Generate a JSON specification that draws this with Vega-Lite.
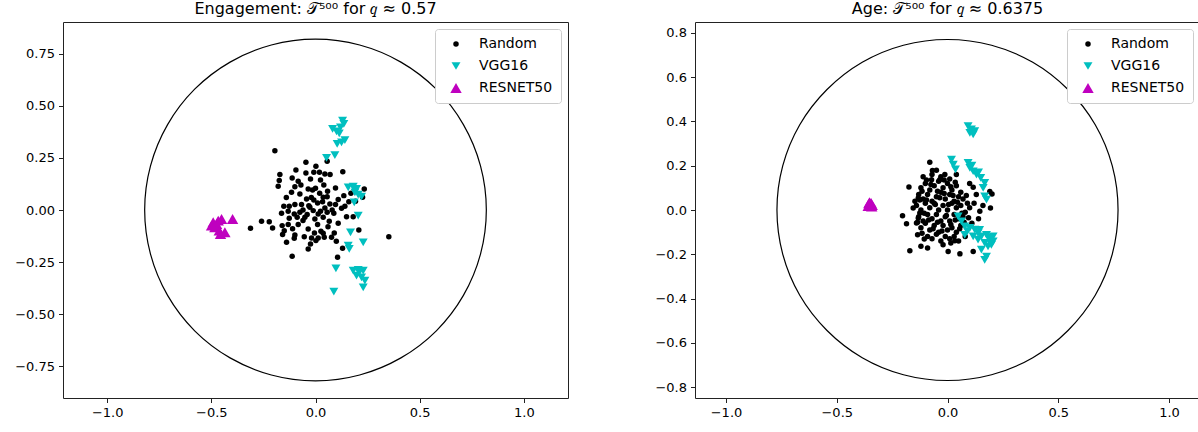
{
  "$schema": "https://vega.github.io/schema/vega-lite/v6.json",
  "padding": {"left": 14, "top": 0, "right": 0, "bottom": 0},
  "spacing": 85,
  "config": {
    "font": "DejaVu Sans",
    "view": {"stroke": "#222222", "strokeWidth": 1},
    "axis": {"domain": false, "grid": false, "ticks": true, "tickSize": 4.5, "tickColor": "#222222", "tickWidth": 1, "labelColor": "black", "labelFont": "DejaVu Sans", "labelFontSize": 13, "labelPadding": 4, "title": null, "labelFlush": false},
    "title": {"fontSize": 16, "fontWeight": "normal", "color": "black", "font": "DejaVu Sans", "offset": 5},
    "legend": {"orient": "top-right", "offset": 7, "padding": 8, "rowPadding": 8, "labelFontSize": 14, "labelFont": "DejaVu Sans", "labelColor": "black", "labelOffset": 16, "cornerRadius": 3, "strokeColor": "#cccccc", "fillColor": "white", "title": null, "symbolOffset": 6}
  },
  "resolve": {"scale": {"color": "independent", "shape": "independent", "size": "independent"}, "legend": {"color": "independent", "shape": "independent", "size": "independent"}},
  "hconcat": [
    {
      "width": 505, "height": 376,
      "title": {"text": "Engagement: 𝒯⁵⁰⁰ for 𝑞 ≈ 0.57"},
      "layer": [
        {
          "data": {"values": [
            {"i":0,"x":0.82,"y":0},{"i":1,"x":0.792,"y":0.212},{"i":2,"x":0.710,"y":0.41},{"i":3,"x":0.580,"y":0.580},{"i":4,"x":0.41,"y":0.710},{"i":5,"x":0.212,"y":0.792},
            {"i":6,"x":0,"y":0.82},{"i":7,"x":-0.212,"y":0.792},{"i":8,"x":-0.41,"y":0.710},{"i":9,"x":-0.580,"y":0.580},{"i":10,"x":-0.710,"y":0.41},{"i":11,"x":-0.792,"y":0.212},
            {"i":12,"x":-0.82,"y":0},{"i":13,"x":-0.792,"y":-0.212},{"i":14,"x":-0.710,"y":-0.41},{"i":15,"x":-0.580,"y":-0.580},{"i":16,"x":-0.41,"y":-0.710},{"i":17,"x":-0.212,"y":-0.792},
            {"i":18,"x":0,"y":-0.82},{"i":19,"x":0.212,"y":-0.792},{"i":20,"x":0.41,"y":-0.710},{"i":21,"x":0.580,"y":-0.580},{"i":22,"x":0.710,"y":-0.41},{"i":23,"x":0.792,"y":-0.212}
          ]},
          "mark": {"type": "line", "color": "black", "strokeWidth": 1.2, "interpolate": "cardinal-closed"},
          "encoding": {
            "x": {"field": "x", "type": "quantitative", "scale": {"domain": [-1.212, 1.212], "nice": false, "zero": false}, "axis": {"values": [-1, -0.5, 0, 0.5, 1], "format": ".1f"}},
            "y": {"field": "y", "type": "quantitative", "scale": {"domain": [-0.9026, 0.9026], "nice": false, "zero": false}, "axis": {"values": [-0.75, -0.5, -0.25, 0, 0.25, 0.5, 0.75], "format": ".2f"}},
            "order": {"field": "i", "type": "quantitative"}
          }
        },
        {
          "data": {"values": [
            {"x":-0.195,"y":0.285,"model":"Random"},{"x":-0.046,"y":0.229,"model":"Random"},{"x":0.002,"y":0.21,"model":"Random"},{"x":0.056,"y":0.234,"model":"Random"},{"x":-0.094,"y":0.192,"model":"Random"},
            {"x":-0.046,"y":0.178,"model":"Random"},{"x":-0.008,"y":0.181,"model":"Random"},{"x":0.019,"y":0.181,"model":"Random"},{"x":0.045,"y":0.173,"model":"Random"},{"x":0.070,"y":0.170,"model":"Random"},
            {"x":0.131,"y":0.184,"model":"Random"},{"x":-0.171,"y":0.170,"model":"Random"},{"x":-0.174,"y":0.142,"model":"Random"},{"x":-0.179,"y":0.114,"model":"Random"},{"x":-0.112,"y":0.154,"model":"Random"},
            {"x":-0.083,"y":0.138,"model":"Random"},{"x":-0.024,"y":0.149,"model":"Random"},{"x":0.024,"y":0.144,"model":"Random"},{"x":-0.099,"y":0.112,"model":"Random"},{"x":-0.035,"y":0.101,"model":"Random"},
            {"x":-0.014,"y":0.096,"model":"Random"},{"x":0.0,"y":0.104,"model":"Random"},{"x":0.096,"y":0.106,"model":"Random"},{"x":0.058,"y":0.090,"model":"Random"},{"x":0.234,"y":0.101,"model":"Random"},
            {"x":-0.115,"y":0.085,"model":"Random"},{"x":-0.075,"y":0.077,"model":"Random"},{"x":-0.043,"y":0.053,"model":"Random"},{"x":-0.008,"y":0.048,"model":"Random"},{"x":0.037,"y":0.061,"model":"Random"},
            {"x":0.056,"y":0.064,"model":"Random"},{"x":0.109,"y":0.050,"model":"Random"},{"x":0.136,"y":0.069,"model":"Random"},{"x":0.226,"y":0.061,"model":"Random"},{"x":-0.152,"y":0.018,"model":"Random"},
            {"x":-0.126,"y":0.018,"model":"Random"},{"x":-0.099,"y":0.026,"model":"Random"},{"x":-0.067,"y":0.026,"model":"Random"},{"x":-0.032,"y":0.021,"model":"Random"},{"x":0.010,"y":0.034,"model":"Random"},
            {"x":0.034,"y":0.040,"model":"Random"},{"x":0.069,"y":0.029,"model":"Random"},{"x":0.096,"y":0.026,"model":"Random"},{"x":0.141,"y":0.018,"model":"Random"},{"x":0.192,"y":0.042,"model":"Random"},
            {"x":-0.163,"y":-0.016,"model":"Random"},{"x":-0.131,"y":-0.006,"model":"Random"},{"x":-0.102,"y":-0.019,"model":"Random"},{"x":-0.075,"y":-0.011,"model":"Random"},{"x":-0.040,"y":-0.022,"model":"Random"},
            {"x":-0.011,"y":-0.003,"model":"Random"},{"x":0.024,"y":-0.006,"model":"Random"},{"x":0.056,"y":-0.011,"model":"Random"},{"x":0.088,"y":-0.016,"model":"Random"},{"x":0.125,"y":0.008,"model":"Random"},
            {"x":0.149,"y":-0.032,"model":"Random"},{"x":0.181,"y":-0.032,"model":"Random"},{"x":-0.126,"y":-0.040,"model":"Random"},{"x":-0.088,"y":-0.035,"model":"Random"},{"x":-0.051,"y":-0.035,"model":"Random"},
            {"x":-0.003,"y":-0.043,"model":"Random"},{"x":0.037,"y":-0.035,"model":"Random"},{"x":0.066,"y":-0.054,"model":"Random"},{"x":0.109,"y":-0.064,"model":"Random"},{"x":-0.259,"y":-0.054,"model":"Random"},
            {"x":-0.222,"y":-0.056,"model":"Random"},{"x":-0.312,"y":-0.088,"model":"Random"},{"x":-0.206,"y":-0.086,"model":"Random"},{"x":-0.160,"y":-0.075,"model":"Random"},{"x":-0.131,"y":-0.070,"model":"Random"},
            {"x":-0.083,"y":-0.070,"model":"Random"},{"x":0.010,"y":-0.070,"model":"Random"},{"x":0.037,"y":-0.112,"model":"Random"},{"x":0.026,"y":-0.102,"model":"Random"},{"x":-0.035,"y":-0.091,"model":"Random"},
            {"x":-0.158,"y":-0.118,"model":"Random"},{"x":-0.099,"y":-0.120,"model":"Random"},{"x":-0.054,"y":-0.128,"model":"Random"},{"x":-0.019,"y":-0.134,"model":"Random"},{"x":0.013,"y":-0.134,"model":"Random"},
            {"x":0.042,"y":-0.131,"model":"Random"},{"x":0.090,"y":-0.110,"model":"Random"},{"x":0.077,"y":-0.131,"model":"Random"},{"x":-0.139,"y":-0.155,"model":"Random"},{"x":-0.102,"y":-0.136,"model":"Random"},
            {"x":-0.024,"y":-0.163,"model":"Random"},{"x":0.002,"y":-0.147,"model":"Random"},{"x":-0.035,"y":-0.187,"model":"Random"},{"x":-0.112,"y":-0.222,"model":"Random"},{"x":0.130,"y":-0.184,"model":"Random"},
            {"x":0.106,"y":-0.227,"model":"Random"},{"x":0.208,"y":-0.096,"model":"Random"},{"x":0.352,"y":-0.128,"model":"Random"},{"x":0.013,"y":-0.019,"model":"Random"},{"x":-0.027,"y":0.013,"model":"Random"},
            {"x":-0.060,"y":0.000,"model":"Random"},{"x":0.045,"y":0.010,"model":"Random"},{"x":0.080,"y":0.000,"model":"Random"},{"x":-0.020,"y":0.060,"model":"Random"},{"x":0.020,"y":0.080,"model":"Random"},
            {"x":-0.060,"y":-0.050,"model":"Random"},{"x":0.060,"y":-0.080,"model":"Random"},{"x":-0.140,"y":0.060,"model":"Random"},{"x":-0.150,"y":-0.100,"model":"Random"},{"x":0.160,"y":0.040,"model":"Random"},
            {"x":-0.005,"y":-0.110,"model":"Random"},{"x":0.100,"y":-0.150,"model":"Random"},{"x":-0.070,"y":0.120,"model":"Random"},{"x":0.040,"y":0.120,"model":"Random"},{"x":0.170,"y":0.080,"model":"Random"},
            {"x":-0.110,"y":-0.090,"model":"Random"},
            {"x":0.130,"y":0.429,"model":"VGG16"},{"x":0.136,"y":0.413,"model":"VGG16"},{"x":0.120,"y":0.397,"model":"VGG16"},{"x":0.082,"y":0.389,"model":"VGG16"},{"x":0.101,"y":0.378,"model":"VGG16"},
            {"x":0.114,"y":0.368,"model":"VGG16"},{"x":0.141,"y":0.336,"model":"VGG16"},{"x":0.125,"y":0.325,"model":"VGG16"},{"x":0.104,"y":0.317,"model":"VGG16"},{"x":0.093,"y":0.264,"model":"VGG16"},
            {"x":0.053,"y":0.250,"model":"VGG16"},{"x":0.157,"y":0.109,"model":"VGG16"},{"x":0.181,"y":0.112,"model":"VGG16"},{"x":0.197,"y":0.101,"model":"VGG16"},{"x":0.189,"y":0.085,"model":"VGG16"},
            {"x":0.205,"y":0.074,"model":"VGG16"},{"x":0.221,"y":0.064,"model":"VGG16"},{"x":0.186,"y":0.037,"model":"VGG16"},{"x":0.205,"y":-0.027,"model":"VGG16"},{"x":0.168,"y":-0.107,"model":"VGG16"},
            {"x":0.229,"y":-0.155,"model":"VGG16"},{"x":0.157,"y":-0.171,"model":"VGG16"},{"x":0.162,"y":-0.187,"model":"VGG16"},{"x":0.098,"y":-0.280,"model":"VGG16"},{"x":0.181,"y":-0.291,"model":"VGG16"},
            {"x":0.205,"y":-0.288,"model":"VGG16"},{"x":0.229,"y":-0.291,"model":"VGG16"},{"x":0.197,"y":-0.315,"model":"VGG16"},{"x":0.221,"y":-0.323,"model":"VGG16"},{"x":0.237,"y":-0.339,"model":"VGG16"},
            {"x":0.229,"y":-0.371,"model":"VGG16"},{"x":0.088,"y":-0.392,"model":"VGG16"},{"x":0.19,"y":0.095,"model":"VGG16"},{"x":0.21,"y":-0.30,"model":"VGG16"},
            {"x":-0.491,"y":-0.059,"model":"RESNET50"},{"x":-0.475,"y":-0.067,"model":"RESNET50"},{"x":-0.483,"y":-0.083,"model":"RESNET50"},{"x":-0.462,"y":-0.099,"model":"RESNET50"},{"x":-0.451,"y":-0.043,"model":"RESNET50"},
            {"x":-0.435,"y":-0.107,"model":"RESNET50"},{"x":-0.398,"y":-0.043,"model":"RESNET50"},{"x":-0.499,"y":-0.075,"model":"RESNET50"},{"x":-0.467,"y":-0.051,"model":"RESNET50"},{"x":-0.456,"y":-0.115,"model":"RESNET50"}
          ]},
          "mark": {"type": "point", "filled": true, "opacity": 1},
          "encoding": {
            "x": {"field": "x", "type": "quantitative"},
            "y": {"field": "y", "type": "quantitative"},
            "color": {"field": "model", "type": "nominal", "sort": null, "scale": {"domain": ["Random", "VGG16", "RESNET50"], "range": ["black", "#00bfbf", "#bf00bf"]}},
            "shape": {"field": "model", "type": "nominal", "sort": null, "scale": {"domain": ["Random", "VGG16", "RESNET50"], "range": ["circle", "triangle-down", "triangle-up"]}},
            "size": {"field": "model", "type": "nominal", "sort": null, "scale": {"domain": ["Random", "VGG16", "RESNET50"], "range": [30, 130, 130]}}
          }
        }
      ]
    },
    {
      "width": 505, "height": 376,
      "title": {"text": "Age: 𝒯⁵⁰⁰ for 𝑞 ≈ 0.6375"},
      "layer": [
        {
          "data": {"values": [
            {"i":0,"x":0.77,"y":0},{"i":1,"x":0.744,"y":0.199},{"i":2,"x":0.667,"y":0.385},{"i":3,"x":0.544,"y":0.544},{"i":4,"x":0.385,"y":0.667},{"i":5,"x":0.199,"y":0.744},
            {"i":6,"x":0,"y":0.77},{"i":7,"x":-0.199,"y":0.744},{"i":8,"x":-0.385,"y":0.667},{"i":9,"x":-0.544,"y":0.544},{"i":10,"x":-0.667,"y":0.385},{"i":11,"x":-0.744,"y":0.199},
            {"i":12,"x":-0.77,"y":0},{"i":13,"x":-0.744,"y":-0.199},{"i":14,"x":-0.667,"y":-0.385},{"i":15,"x":-0.544,"y":-0.544},{"i":16,"x":-0.385,"y":-0.667},{"i":17,"x":-0.199,"y":-0.744},
            {"i":18,"x":0,"y":-0.77},{"i":19,"x":0.199,"y":-0.744},{"i":20,"x":0.385,"y":-0.667},{"i":21,"x":0.544,"y":-0.544},{"i":22,"x":0.667,"y":-0.385},{"i":23,"x":0.744,"y":-0.199}
          ]},
          "mark": {"type": "line", "color": "black", "strokeWidth": 1.2, "interpolate": "cardinal-closed"},
          "encoding": {
            "x": {"field": "x", "type": "quantitative", "scale": {"domain": [-1.14, 1.14], "nice": false, "zero": false}, "axis": {"values": [-1, -0.5, 0, 0.5, 1], "format": ".1f"}},
            "y": {"field": "y", "type": "quantitative", "scale": {"domain": [-0.849, 0.849], "nice": false, "zero": false}, "axis": {"values": [-0.8, -0.6, -0.4, -0.2, 0, 0.2, 0.4, 0.6, 0.8], "format": ".1f"}},
            "order": {"field": "i", "type": "quantitative"}
          }
        },
        {
          "data": {"values": [
            {"x":-0.080,"y":0.216,"model":"Random"},{"x":-0.068,"y":0.178,"model":"Random"},{"x":-0.072,"y":0.137,"model":"Random"},{"x":-0.035,"y":0.137,"model":"Random"},{"x":-0.012,"y":0.160,"model":"Random"},
            {"x":-0.174,"y":0.104,"model":"Random"},{"x":-0.203,"y":-0.026,"model":"Random"},{"x":-0.185,"y":-0.062,"model":"Random"},{"x":-0.170,"y":-0.184,"model":"Random"},{"x":-0.120,"y":-0.164,"model":"Random"},
            {"x":-0.090,"y":-0.172,"model":"Random"},{"x":-0.135,"y":-0.112,"model":"Random"},{"x":-0.105,"y":-0.131,"model":"Random"},{"x":-0.020,"y":-0.157,"model":"Random"},{"x":0.003,"y":-0.187,"model":"Random"},
            {"x":0.056,"y":-0.198,"model":"Random"},{"x":0.116,"y":-0.187,"model":"Random"},{"x":0.015,"y":-0.149,"model":"Random"},{"x":0.033,"y":-0.139,"model":"Random"},{"x":0.116,"y":0.103,"model":"Random"},
            {"x":0.191,"y":0.084,"model":"Random"},{"x":0.201,"y":0.072,"model":"Random"},{"x":0.194,"y":0.009,"model":"Random"},{"x":0.146,"y":-0.006,"model":"Random"},{"x":-0.132,"y":0.054,"model":"Random"},
            {"x":-0.147,"y":0.039,"model":"Random"},{"x":-0.155,"y":0.009,"model":"Random"},{"x":-0.125,"y":-0.014,"model":"Random"},{"x":-0.132,"y":-0.036,"model":"Random"},{"x":-0.140,"y":-0.059,"model":"Random"},
            {"x":-0.12,"y":0.10,"model":"Random"},{"x":-0.10,"y":0.12,"model":"Random"},{"x":-0.08,"y":0.09,"model":"Random"},{"x":-0.06,"y":0.11,"model":"Random"},{"x":-0.04,"y":0.13,"model":"Random"},
            {"x":-0.02,"y":0.10,"model":"Random"},{"x":0.00,"y":0.12,"model":"Random"},{"x":0.02,"y":0.09,"model":"Random"},{"x":0.04,"y":0.11,"model":"Random"},{"x":0.06,"y":0.08,"model":"Random"},
            {"x":-0.13,"y":0.07,"model":"Random"},{"x":-0.11,"y":0.05,"model":"Random"},{"x":-0.09,"y":0.07,"model":"Random"},{"x":-0.07,"y":0.04,"model":"Random"},{"x":-0.05,"y":0.06,"model":"Random"},
            {"x":-0.03,"y":0.08,"model":"Random"},{"x":-0.01,"y":0.05,"model":"Random"},{"x":0.01,"y":0.07,"model":"Random"},{"x":0.03,"y":0.04,"model":"Random"},{"x":0.05,"y":0.06,"model":"Random"},
            {"x":0.07,"y":0.05,"model":"Random"},{"x":0.09,"y":0.03,"model":"Random"},{"x":-0.14,"y":0.02,"model":"Random"},{"x":-0.12,"y":0.00,"model":"Random"},{"x":-0.10,"y":0.03,"model":"Random"},
            {"x":-0.08,"y":0.01,"model":"Random"},{"x":-0.06,"y":0.03,"model":"Random"},{"x":-0.04,"y":0.00,"model":"Random"},{"x":-0.02,"y":0.02,"model":"Random"},{"x":0.00,"y":0.00,"model":"Random"},
            {"x":0.02,"y":0.03,"model":"Random"},{"x":0.04,"y":0.01,"model":"Random"},{"x":0.06,"y":0.02,"model":"Random"},{"x":0.08,"y":-0.01,"model":"Random"},{"x":0.10,"y":0.01,"model":"Random"},
            {"x":-0.13,"y":-0.03,"model":"Random"},{"x":-0.11,"y":-0.05,"model":"Random"},{"x":-0.09,"y":-0.02,"model":"Random"},{"x":-0.07,"y":-0.04,"model":"Random"},{"x":-0.05,"y":-0.02,"model":"Random"},
            {"x":-0.03,"y":-0.05,"model":"Random"},{"x":-0.01,"y":-0.03,"model":"Random"},{"x":0.01,"y":-0.05,"model":"Random"},{"x":0.03,"y":-0.02,"model":"Random"},{"x":0.05,"y":-0.04,"model":"Random"},
            {"x":0.07,"y":-0.03,"model":"Random"},{"x":-0.12,"y":-0.08,"model":"Random"},{"x":-0.10,"y":-0.06,"model":"Random"},{"x":-0.08,"y":-0.09,"model":"Random"},{"x":-0.06,"y":-0.07,"model":"Random"},
            {"x":-0.04,"y":-0.10,"model":"Random"},{"x":-0.02,"y":-0.07,"model":"Random"},{"x":0.00,"y":-0.09,"model":"Random"},{"x":0.02,"y":-0.08,"model":"Random"},{"x":0.04,"y":-0.10,"model":"Random"},
            {"x":0.06,"y":-0.07,"model":"Random"},{"x":-0.09,"y":-0.12,"model":"Random"},{"x":-0.07,"y":-0.13,"model":"Random"},{"x":-0.05,"y":-0.11,"model":"Random"},{"x":-0.03,"y":-0.14,"model":"Random"},
            {"x":-0.01,"y":-0.12,"model":"Random"},{"x":0.01,"y":-0.13,"model":"Random"},{"x":0.03,"y":-0.12,"model":"Random"},{"x":0.05,"y":-0.14,"model":"Random"},{"x":0.08,"y":-0.12,"model":"Random"},
            {"x":-0.11,"y":0.15,"model":"Random"},{"x":-0.07,"y":0.16,"model":"Random"},{"x":-0.03,"y":0.15,"model":"Random"},{"x":0.01,"y":0.14,"model":"Random"},{"x":0.04,"y":0.16,"model":"Random"},
            {"x":-0.05,"y":0.18,"model":"Random"},{"x":-0.115,"y":0.085,"model":"Random"},{"x":-0.095,"y":0.045,"model":"Random"},{"x":-0.075,"y":0.115,"model":"Random"},{"x":-0.055,"y":0.025,"model":"Random"},
            {"x":-0.035,"y":0.055,"model":"Random"},{"x":-0.015,"y":0.135,"model":"Random"},{"x":0.005,"y":0.025,"model":"Random"},{"x":0.025,"y":0.065,"model":"Random"},{"x":0.045,"y":0.035,"model":"Random"},
            {"x":0.065,"y":-0.015,"model":"Random"},{"x":-0.105,"y":-0.015,"model":"Random"},{"x":-0.085,"y":-0.045,"model":"Random"},{"x":-0.065,"y":-0.085,"model":"Random"},{"x":-0.045,"y":-0.055,"model":"Random"},
            {"x":-0.025,"y":-0.095,"model":"Random"},{"x":-0.005,"y":-0.025,"model":"Random"},{"x":0.015,"y":-0.065,"model":"Random"},{"x":0.035,"y":-0.045,"model":"Random"},{"x":0.055,"y":-0.085,"model":"Random"},
            {"x":0.075,"y":-0.055,"model":"Random"},{"x":-0.125,"y":0.045,"model":"Random"},{"x":-0.015,"y":0.075,"model":"Random"},{"x":0.015,"y":0.105,"model":"Random"},{"x":-0.045,"y":0.085,"model":"Random"},
            {"x":0.035,"y":0.125,"model":"Random"},{"x":-0.095,"y":0.135,"model":"Random"},{"x":0.085,"y":0.065,"model":"Random"},{"x":0.095,"y":-0.035,"model":"Random"},{"x":-0.135,"y":-0.055,"model":"Random"},
            {"x":-0.115,"y":-0.105,"model":"Random"},{"x":0.12,"y":0.03,"model":"Random"},{"x":0.14,"y":-0.04,"model":"Random"},{"x":0.11,"y":-0.06,"model":"Random"},{"x":0.13,"y":0.07,"model":"Random"},
            {"x":0.10,"y":0.12,"model":"Random"},{"x":0.16,"y":0.02,"model":"Random"},
            {"x":0.093,"y":0.379,"model":"VGG16"},{"x":0.108,"y":0.364,"model":"VGG16"},{"x":0.116,"y":0.341,"model":"VGG16"},{"x":0.101,"y":0.348,"model":"VGG16"},{"x":0.123,"y":0.356,"model":"VGG16"},
            {"x":0.018,"y":0.228,"model":"VGG16"},{"x":0.026,"y":0.205,"model":"VGG16"},{"x":0.036,"y":0.183,"model":"VGG16"},{"x":0.093,"y":0.213,"model":"VGG16"},{"x":0.101,"y":0.190,"model":"VGG16"},
            {"x":0.116,"y":0.175,"model":"VGG16"},{"x":0.131,"y":0.160,"model":"VGG16"},{"x":0.150,"y":0.145,"model":"VGG16"},{"x":0.168,"y":0.122,"model":"VGG16"},{"x":0.161,"y":0.100,"model":"VGG16"},
            {"x":0.168,"y":0.062,"model":"VGG16"},{"x":0.176,"y":0.047,"model":"VGG16"},{"x":0.048,"y":-0.029,"model":"VGG16"},{"x":0.063,"y":-0.051,"model":"VGG16"},{"x":0.078,"y":-0.074,"model":"VGG16"},
            {"x":0.101,"y":-0.081,"model":"VGG16"},{"x":0.123,"y":-0.089,"model":"VGG16"},{"x":0.138,"y":-0.104,"model":"VGG16"},{"x":0.153,"y":-0.119,"model":"VGG16"},{"x":0.176,"y":-0.112,"model":"VGG16"},
            {"x":0.191,"y":-0.134,"model":"VGG16"},{"x":0.206,"y":-0.142,"model":"VGG16"},{"x":0.168,"y":-0.149,"model":"VGG16"},{"x":0.183,"y":-0.164,"model":"VGG16"},{"x":0.198,"y":-0.157,"model":"VGG16"},
            {"x":0.078,"y":-0.112,"model":"VGG16"},{"x":0.176,"y":-0.210,"model":"VGG16"},{"x":0.168,"y":-0.225,"model":"VGG16"},{"x":0.153,"y":-0.179,"model":"VGG16"},{"x":0.138,"y":-0.134,"model":"VGG16"},
            {"x":0.206,"y":-0.119,"model":"VGG16"},{"x":0.116,"y":-0.119,"model":"VGG16"},{"x":0.09,"y":-0.095,"model":"VGG16"},{"x":0.145,"y":-0.09,"model":"VGG16"},{"x":0.185,"y":-0.125,"model":"VGG16"},
            {"x":0.11,"y":0.20,"model":"VGG16"},{"x":0.14,"y":0.17,"model":"VGG16"},
            {"x":-0.355,"y":0.030,"model":"RESNET50"},{"x":-0.345,"y":0.032,"model":"RESNET50"},{"x":-0.350,"y":0.020,"model":"RESNET50"},{"x":-0.340,"y":0.022,"model":"RESNET50"},
            {"x":-0.358,"y":0.018,"model":"RESNET50"},{"x":-0.347,"y":0.027,"model":"RESNET50"},{"x":-0.352,"y":0.035,"model":"RESNET50"},{"x":-0.342,"y":0.015,"model":"RESNET50"}
          ]},
          "mark": {"type": "point", "filled": true, "opacity": 1},
          "encoding": {
            "x": {"field": "x", "type": "quantitative"},
            "y": {"field": "y", "type": "quantitative"},
            "color": {"field": "model", "type": "nominal", "sort": null, "scale": {"domain": ["Random", "VGG16", "RESNET50"], "range": ["black", "#00bfbf", "#bf00bf"]}},
            "shape": {"field": "model", "type": "nominal", "sort": null, "scale": {"domain": ["Random", "VGG16", "RESNET50"], "range": ["circle", "triangle-down", "triangle-up"]}},
            "size": {"field": "model", "type": "nominal", "sort": null, "scale": {"domain": ["Random", "VGG16", "RESNET50"], "range": [30, 130, 130]}}
          }
        }
      ]
    }
  ]
}
